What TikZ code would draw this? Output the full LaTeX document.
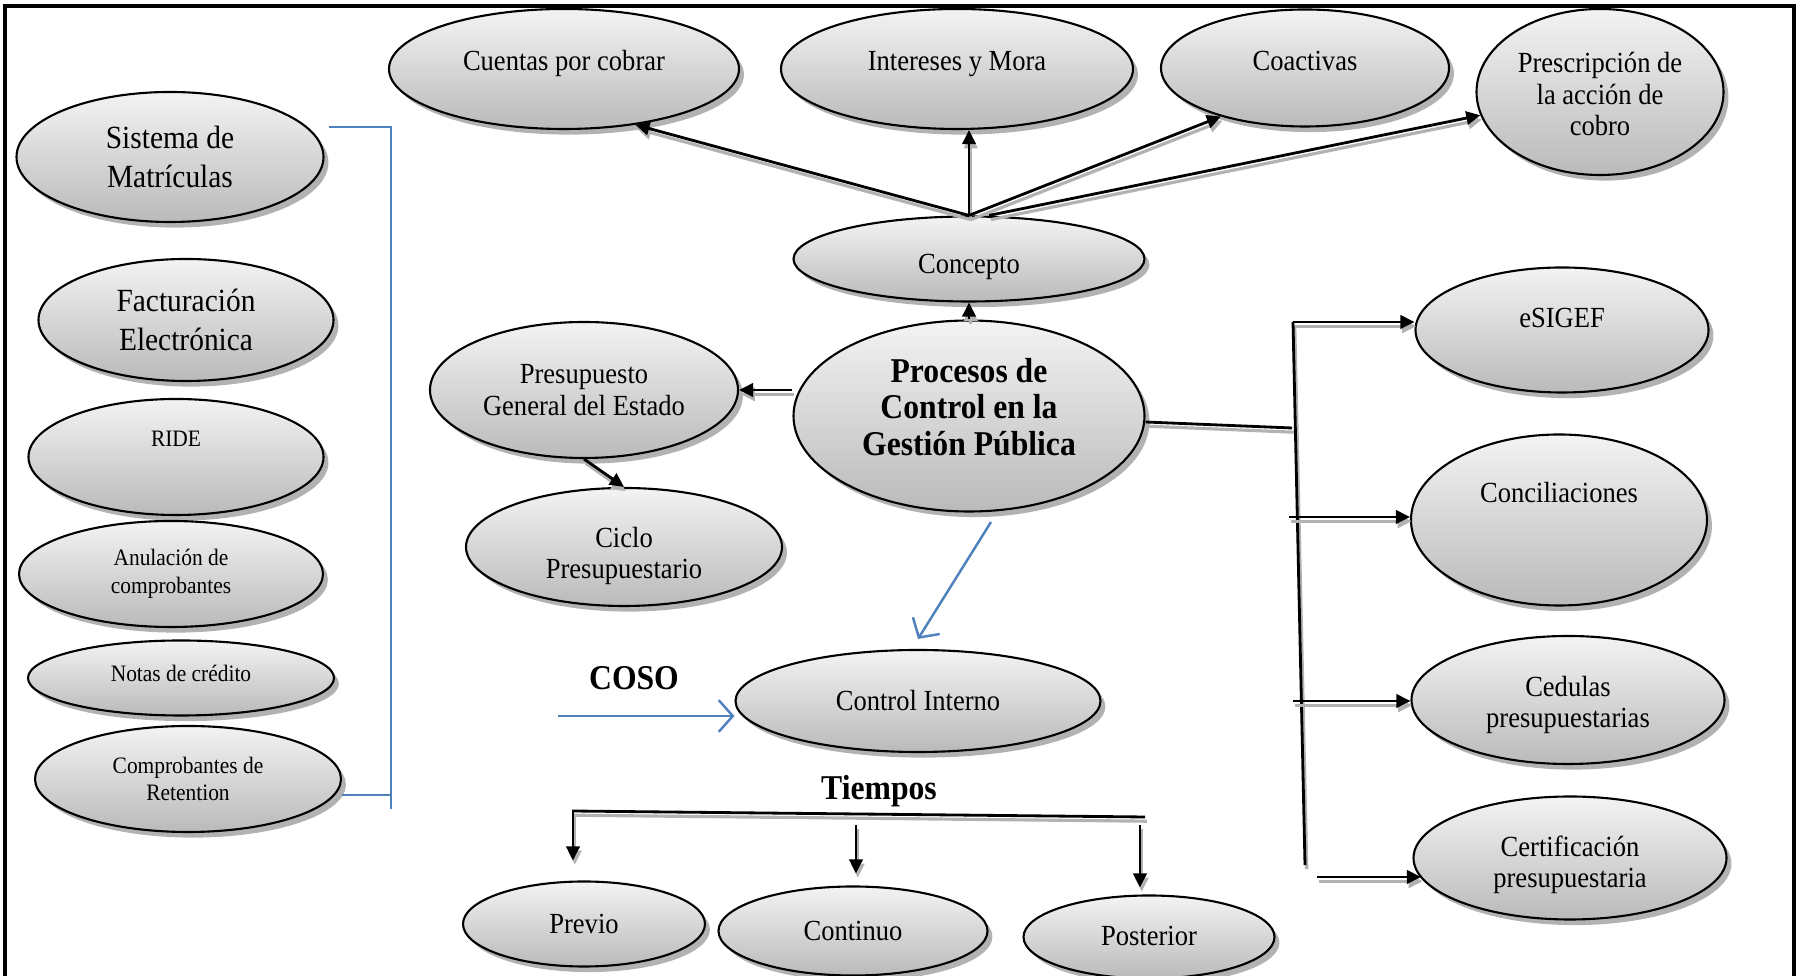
\documentclass[tikz,border=0pt]{standalone}
\usepackage{fontspec}
\setmainfont{Liberation Serif}[FakeStretch=0.91]
\usetikzlibrary{arrows.meta,shapes.geometric,shadows}
\definecolor{ovaltop}{RGB}{243,243,243}
\definecolor{ovalbot}{RGB}{186,186,186}
\definecolor{linkblue}{RGB}{79,129,189}
\newcommand{\liftxt}[2]{\raisebox{#1}[\height][\depth]{\begin{tabular}{@{}c@{}}#2\end{tabular}}}
\tikzset{
  oval/.style={ellipse, draw=black, line width=0.6pt, top color=ovaltop, bottom color=ovalbot,
               drop shadow={shadow xshift=1.4pt, shadow yshift=-1.6pt, fill=black!60, opacity=0.5},
               inner sep=0pt, align=center, font=\fontsize{8.3pt}{8.9pt}\selectfont},
  bigoval/.style={oval, font=\fontsize{9.2pt}{10.9pt}\selectfont},
  smalloval/.style={oval, font=\fontsize{6.7pt}{7.8pt}\selectfont},
  coreoval/.style={oval, font=\fontsize{9.9pt}{10.4pt}\selectfont\bfseries},
  arr/.style={-{Triangle[length=4pt,width=3.8pt]}, line width=0.8pt,
              preaction={draw=black!30, line width=0.9pt, transform canvas={xshift=0.5pt,yshift=-1.2pt}}},
  shline/.style={line width=0.8pt,
              preaction={draw=black!30, line width=0.9pt, transform canvas={xshift=0.5pt,yshift=-1.2pt}}},
  bluearr/.style={-{Straight Barb[length=4pt,width=9pt]}, linkblue, line width=0.7pt},
  bracket/.style={linkblue, line width=0.6pt},
  heading/.style={font=\fontsize{9.9pt}{10.4pt}\selectfont\bfseries},
}
\begin{document}
\begin{tikzpicture}
    \useasboundingbox (0,0) rectangle (18.04,9.76);
    \draw[line width=1.3pt] (0.05,-0.3) -- (0.05,9.70) -- (17.94,9.70) -- (17.94,-0.3);
    % top row
    \node[oval, minimum width=3.50cm, minimum height=1.20cm] (cuentas) at (5.64,9.07) {\liftxt{0.045cm}{Cuentas por cobrar}};
    \node[oval, minimum width=3.52cm, minimum height=1.20cm] (intereses) at (9.57,9.07) {\liftxt{0.045cm}{Intereses y Mora}};
    \node[oval, minimum width=2.88cm, minimum height=1.17cm] (coactivas) at (13.05,9.08) {\liftxt{0.035cm}{Coactivas}};
    \node[oval, minimum width=2.47cm, minimum height=1.66cm] (presc) at (16.00,8.84) {\liftxt{-0.06cm}{Prescripción de\\la acción de\\cobro}};
    % centre
    \node[oval, minimum width=3.51cm, minimum height=0.85cm] (concepto) at (9.69,7.17) {\liftxt{-0.08cm}{Concepto}};
    \node[coreoval, minimum width=3.51cm, minimum height=1.91cm] (procesos) at (9.69,5.60) {\liftxt{0.045cm}{Procesos de\\Control en la\\Gestión Pública}};
    \node[oval, minimum width=3.08cm, minimum height=1.36cm] (presup) at (5.84,5.86) {Presupuesto\\General del Estado};
    \node[oval, minimum width=3.16cm, minimum height=1.18cm] (ciclo) at (6.24,4.29) {\liftxt{-0.1cm}{Ciclo\\Presupuestario}};
    \node[oval, minimum width=3.65cm, minimum height=1.02cm] (control) at (9.18,2.75) {Control Interno};
    \node[heading] (coso) at (6.34,2.98) {COSO};
    \node[heading] (tiempos) at (8.79,1.85) {Tiempos};
    \node[oval, minimum width=2.42cm, minimum height=0.85cm] (previo) at (5.84,0.52) {Previo};
    \node[oval, minimum width=2.69cm, minimum height=0.89cm] (continuo) at (8.53,0.45) {Continuo};
    \node[oval, minimum width=2.51cm, minimum height=0.83cm] (posterior) at (11.49,0.39) {\liftxt{-0.02cm}{Posterior}};
    % left column
    \node[bigoval, minimum width=3.07cm, minimum height=1.30cm] (sistema) at (1.70,8.19) {Sistema de\\Matrículas};
    \node[bigoval, minimum width=2.95cm, minimum height=1.22cm] (factura) at (1.86,6.56) {\liftxt{-0.035cm}{Facturación\\Electrónica}};
    \node[smalloval, minimum width=2.95cm, minimum height=1.16cm] (ride) at (1.76,5.19) {\liftxt{0.16cm}{RIDE}};
    \node[smalloval, minimum width=3.04cm, minimum height=1.06cm] (anulacion) at (1.71,4.02) {Anulación de\\comprobantes};
    \node[smalloval, minimum width=3.06cm, minimum height=0.75cm] (notas) at (1.81,2.98) {\liftxt{0.02cm}{Notas de crédito}};
    \node[smalloval, minimum width=3.06cm, minimum height=1.06cm] (retencion) at (1.88,1.97) {Comprobantes de\\Retention};
    % right column
    \node[oval, minimum width=2.93cm, minimum height=1.25cm] (esigef) at (15.62,6.46) {\liftxt{0.085cm}{eSIGEF}};
    \node[oval, minimum width=2.96cm, minimum height=1.71cm] (concil) at (15.59,4.56) {\liftxt{0.24cm}{Conciliaciones}};
    \node[oval, minimum width=3.13cm, minimum height=1.28cm] (cedulas) at (15.68,2.76) {\liftxt{-0.06cm}{Cedulas\\presupuestarias}};
    \node[oval, minimum width=3.13cm, minimum height=1.23cm] (certif) at (15.70,1.18) {\liftxt{-0.08cm}{Certificación\\presupuestaria}};

    \draw[bracket] ([xshift=0.04cm,yshift=0.30cm]sistema.east) -- ++(0.62,0) -- ++(0,-6.82);
    \draw[bracket] ([yshift=-0.16cm]retencion.east) -- ++(0.48,0);

    \draw[arr] (concepto.north) -- (cuentas.-38);
    \draw[arr] (concepto.north) -- (concepto.north |- intereses.south);
    \draw[arr] (concepto.north) -- (coactivas.-150);
    \draw[arr] ([xshift=0.2cm]concepto.north) -- (presc.191);
    \draw[arr] (procesos.north) -- (concepto.south);
    \draw[arr] (procesos.west |- presup.east) -- (presup.east);
    \draw[arr] (presup.south) -- (ciclo.north);

    \coordinate (fanmid) at (12.92,5.48);
    \coordinate (fantop) at (12.93,6.54);
    \coordinate (fanbot) at (13.05,1.11);
    \coordinate (fanc) at (12.89,4.59);
    \coordinate (fand) at (12.93,2.75);
    \coordinate (fane) at (13.17,0.99);
    \draw[shline] ([yshift=-0.06cm]procesos.east) -- (fanmid);
    \draw[shline] (fantop) -- (fanbot);
    \draw[arr] (fantop) -- (fantop -| esigef.west);
    \draw[arr] (fanc) -- (fanc -| concil.west);
    \draw[arr] (fand) -- (fand -| cedulas.west);
    \draw[arr] (fane) -- ++(1.04,0);

    \coordinate (blueout) at (9.91,4.54);
    \coordinate (cosoin) at (5.58,2.60);
    \draw[bluearr] (blueout) -- ([yshift=0.1cm]control.north);
    \draw[bluearr] (cosoin) -- (cosoin -| control.west);

    \coordinate (tl) at (5.72,1.65);
    \coordinate (tr) at (11.45,1.59);
    \coordinate (tprev) at (5.73,1.64);
    \coordinate (tcont) at (8.56,1.51);
    \coordinate (tpost) at (11.40,1.51);
    \draw[shline] (tl) -- (tr);
    \draw[arr, shorten >=0.2cm] (tprev) -- (tprev |- previo.north);
    \draw[arr, shorten >=0.12cm] (tcont) -- (tcont |- continuo.north);
    \draw[arr, shorten >=0.07cm] (tpost) -- (tpost |- posterior.north);
\end{tikzpicture}
\end{document}
